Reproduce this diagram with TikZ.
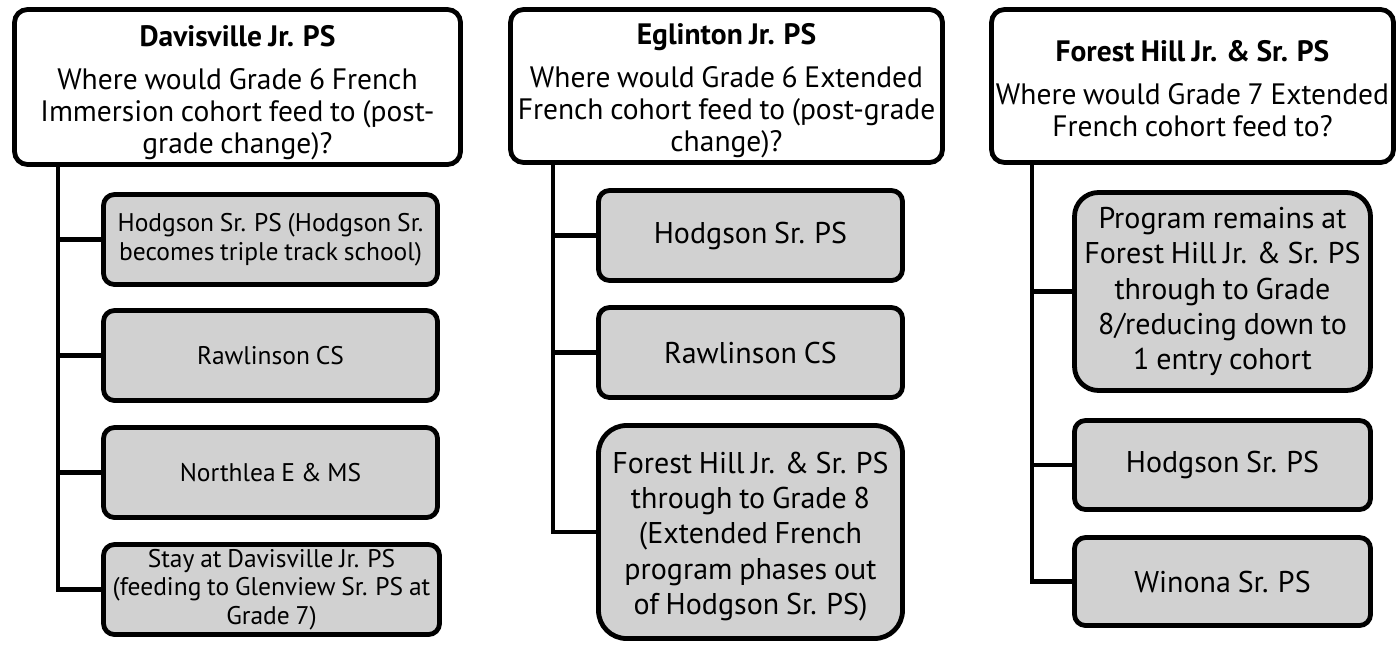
\documentclass[tikz,border=0pt]{standalone}
\usepackage{fontspec}
\setmainfont{PT Sans}[WordSpace=0.85]
\begin{document}
\begin{tikzpicture}[x=1pt,y=-1pt,
  line join=miter,
  hdr/.style={draw=black,line width=4.8pt,fill=white,rounded corners=13pt,inner sep=0pt,align=center,
    font=\fontsize{29.5}{32}\selectfont},
  opt/.style={draw=black,line width=4.8pt,fill=boxgray,rounded corners=11pt,inner sep=0pt,align=center},
  smallopt/.style={opt,font=\fontsize{25.5}{28.5}\selectfont},
  bigopt/.style={opt,font=\fontsize{30}{35.3}\selectfont},
  conn/.style={draw=black,line width=4.8pt}]
\definecolor{boxgray}{RGB}{209,209,209}
\useasboundingbox (0,0) rectangle (1396,645);
% column 1
\node[hdr,minimum width=446pt,minimum height=155pt] (h1) at (237.5,87)
  {\rule{0pt}{32pt}\textbf{Davisville Jr. PS}\\[11pt]Where would Grade 6 French\\Immersion cohort feed to (post-\\grade change)?};
\node[smallopt,minimum width=334pt,minimum height=90pt] (a1) at (270.5,239.5)
  {Hodgson Sr. PS (Hodgson Sr.\\becomes triple track school)};
\node[smallopt,minimum width=334pt,minimum height=90pt] (a2) at (270.5,355.5) {Rawlinson CS};
\node[smallopt,minimum width=334pt,minimum height=90pt] (a3) at (270.5,472.5) {Northlea E \& MS};
\node[smallopt,minimum width=336pt,minimum height=90pt] (a4) at (271.5,589.5)
  {Stay at Davisville Jr. PS\\(feeding to Glenview Sr. PS at\\Grade 7)};
\coordinate (t1) at (58,164.5);
\draw[conn] (t1) |- (a4.west);
\foreach \n in {a1,a2,a3} \draw[conn] (t1 |- \n.west) -- (\n.west);
% column 2
\node[hdr,minimum width=432pt,minimum height=153pt] (h2) at (726.5,86)
  {\rule{0pt}{30pt}\textbf{Eglinton Jr. PS}\\[11pt]Where would Grade 6 Extended\\French cohort feed to (post-grade\\change)?};
\node[bigopt,minimum width=304pt,minimum height=90pt] (b1) at (750.5,235.5) {Hodgson Sr. PS};
\node[bigopt,minimum width=304pt,minimum height=90pt] (b2) at (750.5,352.5) {Rawlinson CS};
\node[bigopt,rounded corners=28pt,minimum width=304pt,minimum height=213pt] (b3) at (750.5,532)
  {\rule{0pt}{30pt}Forest Hill Jr. \& Sr. PS\\through to Grade 8\\(Extended French\\program phases out\\of Hodgson Sr. PS)};
\coordinate (t2) at (553,162.5);
\draw[conn] (t2) |- (b3.west);
\foreach \n in {b1,b2} \draw[conn] (t2 |- \n.west) -- (\n.west);
% column 3
\node[hdr,minimum width=402pt,minimum height=153pt] (h3) at (1192.5,86)
  {\rule{0pt}{26pt}\textbf{Forest Hill Jr. \& Sr. PS}\\[11pt]Where would Grade 7 Extended\\French cohort feed to?};
\node[bigopt,rounded corners=24pt,minimum width=296pt,minimum height=198pt] (c1) at (1222.5,291.5)
  {Program remains at\\Forest Hill Jr. \& Sr. PS\\through to Grade\\8/reducing down to\\1 entry cohort};
\node[bigopt,minimum width=296pt,minimum height=89pt] (c2) at (1222.5,465) {Hodgson Sr. PS};
\node[bigopt,minimum width=296pt,minimum height=88pt] (c3) at (1222.5,581.5) {Winona Sr. PS};
\coordinate (t3) at (1032,162.5);
\draw[conn] (t3) |- (c3.west);
\foreach \n in {c1,c2} \draw[conn] (t3 |- \n.west) -- (\n.west);
\end{tikzpicture}
\end{document}
